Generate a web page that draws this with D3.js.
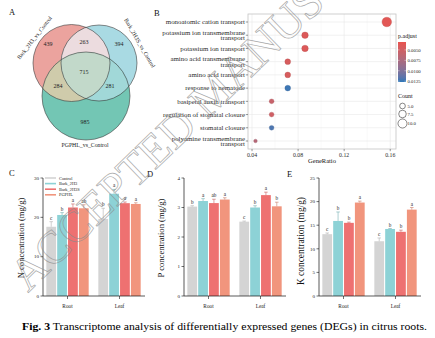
<!DOCTYPE html>
<html><head><meta charset="utf-8">
<script src="https://cdn.jsdelivr.net/npm/d3@7"></script>
<style>body{margin:0;background:#fff} svg{display:block} text{font-family:"Liberation Serif","Times New Roman",serif}</style>
</head><body>
<svg id="c" width="435" height="338"></svg>
<script>
// ---------- data ----------
const vennSets = ["Bark_2H3_vs_Control", "Bark_2H3S_vs_Control", "PGPHL_vs_Control"];
// region counts: A only, B only, C only, A&B, A&C, B&C, A&B&C
const vennCounts = [439, 394, 985, 263, 284, 281, 715];

const goTerms = ["monoatomic cation transport", "potassium ion transmembrane transport", "potassium ion transport",
  "amino acid transmembrane transport", "amino acid transport", "response to nematode", "basipetal auxin transport",
  "regulation of stomatal closure", "stomatal closure", "polyamine transmembrane transport"];
const goLabels = [["monoatomic cation transport"], ["potassium ion transmembrane", "transport"], ["potassium ion transport"],
  ["amino acid transmembrane", "transport"], ["amino acid transport"], ["response to nematode"], ["basipetal auxin transport"],
  ["regulation of stomatal closure"], ["stomatal closure"], ["polyamine transmembrane", "transport"]];
const geneRatio = [0.157, 0.086, 0.086, 0.071, 0.071, 0.071, 0.057, 0.057, 0.057, 0.043];
const goCount = [11, 6, 6, 5, 5, 5, 4, 4, 4, 3];
const pAdjust = [0.0036, 0.0040, 0.0040, 0.0044, 0.0044, 0.0124, 0.0056, 0.0050, 0.0120, 0.0068];
const xTicksB = [0.04, 0.08, 0.12, 0.16];
const pTicks = [0.0050, 0.0075, 0.0100, 0.0125];
const countTicks = [5.0, 7.5, 10.0];

const tissues = ["Root", "Leaf"];
const treatments = ["Control", "Bark_2H3", "Bark_2H3S", "PGPHL"];
const nMean = [[17.6, 20.6, 22.5, 22.3], [19.6, 26.0, 23.6, 23.4]];
const nErr = [[1.3, 0.6, 0.9, 0.9], [2.7, 1.1, 0.3, 0.3]];
const nSig = [["c", "b", "a", "ab"], ["b", "a", "a", "a"]];
const pMean = [[3.03, 3.22, 3.15, 3.27], [2.52, 3.00, 3.42, 3.04]];
const pErr = [[0.03, 0.08, 0.13, 0.06], [0.02, 0.06, 0.10, 0.14]];
const pSig = [["b", "a", "ab", "a"], ["c", "b", "a", "b"]];
const kMean = [[13.1, 15.9, 15.5, 19.8], [11.6, 14.2, 13.6, 18.3]];
const kErr = [[0.25, 1.9, 0.15, 0.3], [0.7, 0.1, 0.35, 0.45]];
const kSig = [["c", "b", "b", "a"], ["c", "b", "b", "a"]];
const nTicks = [0, 10, 20, 30], pTicksY = [0, 1, 2, 3, 4], kTicks = [0, 5, 10, 15, 20, 25];

const caption = "Transcriptome analysis of differentially expressed genes (DEGs) in citrus roots.";

// ---------- drawing ----------
const svg = d3.select("#c");
const defs = svg.append("defs");

function letter(t, x, y) {
  svg.append("text").attr("x", x).attr("y", y).attr("font-size", 8.5).attr("fill", "#111").text(t);
}
letter("A", 9, 15); letter("B", 154, 16); letter("C", 9, 176); letter("D", 147, 177); letter("E", 287, 177);

// ---- Panel A: Venn ----
const vc = [{cx: 71.5, cy: 63, r: 38.5}, {cx: 99, cy: 63, r: 38}, {cx: 86, cy: 96, r: 44}];
["clipR", "clipB", "clipG"].forEach((id, i) => {
  defs.append("clipPath").attr("id", id).append("circle").attr("cx", vc[i].cx).attr("cy", vc[i].cy).attr("r", vc[i].r);
});
const gv = svg.append("g");
const circ = (g, c, fill) => g.append("circle").attr("cx", c.cx).attr("cy", c.cy).attr("r", c.r).attr("fill", fill);
circ(gv, vc[0], "#eba39e");
circ(gv, vc[1], "#a9dae3");
circ(gv, vc[2], "#73c6b4");
circ(gv, vc[1], "#ecdcdf").attr("clip-path", "url(#clipR)");
circ(gv, vc[2], "#cfcbab").attr("clip-path", "url(#clipR)");
circ(gv, vc[2], "#a1d8d8").attr("clip-path", "url(#clipB)");
circ(gv.append("g").attr("clip-path", "url(#clipR)").append("g").attr("clip-path", "url(#clipB)"), vc[2], "#c2d9ca");
vc.forEach(c => gv.append("circle").attr("cx", c.cx).attr("cy", c.cy).attr("r", c.r)
  .attr("fill", "none").attr("stroke", "#3a3a3a").attr("stroke-width", 0.6));
const vennPos = [[48, 44], [119, 44], [85, 122], [84, 42], [58, 86], [110, 86], [84, 72]];
vennCounts.forEach((v, i) => gv.append("text").attr("x", vennPos[i][0]).attr("y", vennPos[i][1] + 2)
  .attr("text-anchor", "middle").attr("font-size", 6).attr("fill", "#222").text(v));
gv.append("text").attr("transform", "translate(36,39) rotate(-52)").attr("text-anchor", "middle")
  .attr("font-size", 5.8).attr("fill", "#222").text(vennSets[0]);
gv.append("text").attr("transform", "translate(138,44) rotate(60)").attr("text-anchor", "middle")
  .attr("font-size", 5.8).attr("fill", "#222").text(vennSets[1]);
gv.append("text").attr("x", 85).attr("y", 147).attr("text-anchor", "middle")
  .attr("font-size", 5.8).attr("fill", "#222").text(vennSets[2]);

// ---- Panel B: GO dot plot ----
const bL = 248, bR = 396, bT = 14, bB = 149;
const xB = d3.scaleLinear().domain([0.0365, 0.165]).range([bL, bR]);
const yB = d3.scalePoint().domain(goTerms).range([22, 141]);
const colB = d3.scaleLinear().domain([0.0031, 0.0127]).range(["#e8534f", "#2e77b8"]).interpolate(d3.interpolateLab);
const rB = c => Math.sqrt(d3.scaleLinear().domain([3, 11]).range([3.3, 23])(c));
const gb = svg.append("g");
xTicksB.slice(0, -1).forEach((t, i) => gb.append("line").attr("x1", xB((t + xTicksB[i + 1]) / 2)).attr("x2", xB((t + xTicksB[i + 1]) / 2))
  .attr("y1", bT).attr("y2", bB).attr("stroke", "#f3f3f3").attr("stroke-width", 0.5));
xTicksB.forEach(t => gb.append("line").attr("x1", xB(t)).attr("x2", xB(t)).attr("y1", bT).attr("y2", bB)
  .attr("stroke", "#e8e8e8").attr("stroke-width", 0.6));
goTerms.forEach(t => gb.append("line").attr("x1", bL).attr("x2", bR).attr("y1", yB(t)).attr("y2", yB(t))
  .attr("stroke", "#e8e8e8").attr("stroke-width", 0.6));
gb.append("rect").attr("x", bL).attr("y", bT).attr("width", bR - bL).attr("height", bB - bT)
  .attr("fill", "none").attr("stroke", "#c4c4c4").attr("stroke-width", 0.8);
goTerms.forEach((t, i) => {
  gb.append("circle").attr("cx", xB(geneRatio[i])).attr("cy", yB(t)).attr("r", rB(goCount[i]))
    .attr("fill", colB(pAdjust[i])).attr("stroke", d3.color(colB(pAdjust[i])).darker(0.6)).attr("stroke-width", 0.3);
  gb.append("line").attr("x1", bL - 2.2).attr("x2", bL).attr("y1", yB(t)).attr("y2", yB(t)).attr("stroke", "#333").attr("stroke-width", 0.5);
  const lines = goLabels[i];
  const tx = gb.append("text").attr("text-anchor", "end").attr("font-size", 6.9).attr("fill", "#2a2a2a");
  lines.forEach((l, j) => tx.append("tspan").attr("x", bL - 3)
    .attr("y", yB(t) + 2.3 + (j - (lines.length - 1) / 2) * 5.6).text(l));
});
xTicksB.forEach(t => {
  gb.append("line").attr("x1", xB(t)).attr("x2", xB(t)).attr("y1", bB).attr("y2", bB + 2.2).attr("stroke", "#333").attr("stroke-width", 0.5);
  gb.append("text").attr("x", xB(t)).attr("y", bB + 7.5).attr("text-anchor", "middle").attr("font-size", 5.8).attr("fill", "#2a2a2a").text(t.toFixed(2));
});
gb.append("text").attr("x", (bL + bR) / 2).attr("y", 163).attr("text-anchor", "middle").attr("font-size", 6.5).attr("fill", "#111").text("GeneRatio");
const grad = defs.append("linearGradient").attr("id", "pg").attr("x1", 0).attr("x2", 0).attr("y1", 0).attr("y2", 1);
d3.range(0, 1.001, 0.1).forEach(f => grad.append("stop").attr("offset", f).attr("stop-color", colB(0.0031 + f * (0.0127 - 0.0031))));
const yP = d3.scaleLinear().domain([0.0031, 0.0127]).range([42, 82]);
gb.append("text").attr("x", 398).attr("y", 38).attr("font-size", 6).attr("fill", "#111").text("p.adjust");
gb.append("rect").attr("x", 398).attr("y", 42).attr("width", 8).attr("height", 40).attr("fill", "url(#pg)");
pTicks.forEach(t => {
  gb.append("line").attr("x1", 398).attr("x2", 399.6).attr("y1", yP(t)).attr("y2", yP(t)).attr("stroke", "#fff").attr("stroke-width", 0.4);
  gb.append("line").attr("x1", 404.4).attr("x2", 406).attr("y1", yP(t)).attr("y2", yP(t)).attr("stroke", "#fff").attr("stroke-width", 0.4);
  gb.append("text").attr("x", 407.5).attr("y", yP(t) + 1.8).attr("font-size", 4.8).attr("fill", "#222").text(t.toFixed(4));
});
gb.append("text").attr("x", 398).attr("y", 98).attr("font-size", 6).attr("fill", "#111").text("Count");
const cy0 = [106, 114, 123.5];
countTicks.forEach((c, i) => {
  gb.append("circle").attr("cx", 402.5).attr("cy", cy0[i]).attr("r", rB(c)).attr("fill", "none").attr("stroke", "#111").attr("stroke-width", 0.5);
  gb.append("text").attr("x", 407.5).attr("y", cy0[i] + 1.8).attr("font-size", 4.8).attr("fill", "#222").text(c.toFixed(1));
});

// ---- Bar panels ----
const barColors = d3.scaleOrdinal().domain(treatments).range(["#d4d4d4", "#8dd2d6", "#ee7171", "#f1957d"]);
function barPanel(o) {
  const g = svg.append("g");
  const y = d3.scaleLinear().domain([0, o.yMax]).range([296, 178]);
  const x0 = d3.scaleBand().domain(tissues).range([o.ax + 3, o.ax + 98]).paddingInner(0.173);
  const x1 = d3.scaleBand().domain(treatments).range([0, x0.bandwidth()]).paddingInner(0.1).paddingOuter(0.03);
  tissues.forEach((ts, ti) => treatments.forEach((tr, k) => {
    const m = o.mean[ti][k], e = o.err[ti][k];
    const bx = x0(ts) + x1(tr), cx = bx + x1.bandwidth() / 2;
    const col = barColors(tr);
    g.append("rect").attr("x", bx).attr("y", y(m)).attr("width", x1.bandwidth()).attr("height", y(0) - y(m)).attr("fill", col);
    const ec = d3.color(col).darker(0.5);
    g.append("line").attr("x1", cx).attr("x2", cx).attr("y1", y(m)).attr("y2", y(m + e)).attr("stroke", ec).attr("stroke-width", 0.6);
    g.append("line").attr("x1", cx - 1.8).attr("x2", cx + 1.8).attr("y1", y(m + e)).attr("y2", y(m + e)).attr("stroke", ec).attr("stroke-width", 0.6);
    g.append("text").attr("x", cx).attr("y", y(m + e) - 2).attr("text-anchor", "middle").attr("font-size", 5.2).attr("fill", "#222").text(o.sig[ti][k]);
  }));
  g.append("line").attr("x1", o.ax).attr("x2", o.ax).attr("y1", y(0)).attr("y2", y(o.yMax)).attr("stroke", "#111").attr("stroke-width", 0.7);
  o.ticks.forEach(t => {
    g.append("line").attr("x1", o.ax - 2.5).attr("x2", o.ax).attr("y1", y(t)).attr("y2", y(t)).attr("stroke", "#111").attr("stroke-width", 0.6);
    g.append("text").attr("x", o.ax - 4).attr("y", y(t) + 1.7).attr("text-anchor", "end").attr("font-size", 5).attr("fill", "#222").text(t);
  });
  g.append("line").attr("x1", o.ax).attr("x2", o.ax + 102).attr("y1", y(0)).attr("y2", y(0)).attr("stroke", "#111").attr("stroke-width", 0.7);
  tissues.forEach(ts => {
    const cx = x0(ts) + x0.bandwidth() / 2;
    g.append("line").attr("x1", cx).attr("x2", cx).attr("y1", y(0)).attr("y2", y(0) + 3).attr("stroke", "#111").attr("stroke-width", 0.6);
    g.append("text").attr("x", cx).attr("y", 307.5).attr("text-anchor", "middle").attr("font-size", 5.3).attr("fill", "#222").text(ts);
  });
  g.append("text").attr("transform", `translate(${o.lx},${o.ly}) rotate(-90)`).attr("text-anchor", "middle")
    .attr("font-size", o.lfs).attr("fill", "#111").text(o.label);
  if (o.legend) {
    treatments.forEach((tr, k) => {
      const ly = 178 + k * 5.6;
      g.append("rect").attr("x", o.ax + 2).attr("y", ly - 0.8).attr("width", 11).attr("height", 1.6).attr("fill", barColors(tr));
      g.append("text").attr("x", o.ax + 16).attr("y", ly + 1.5).attr("font-size", 4.4).attr("fill", "#222").text(tr);
    });
  }
}
barPanel({ax: 43, yMax: 30, ticks: nTicks, mean: nMean, err: nErr, sig: nSig, label: "N concentration (mg/g)", lx: 24, ly: 238, lfs: 8.6, legend: true});
barPanel({ax: 184, yMax: 4, ticks: pTicksY, mean: pMean, err: pErr, sig: pSig, label: "P concentration (mg/g)", lx: 164, ly: 238, lfs: 8.6});
barPanel({ax: 319, yMax: 25, ticks: kTicks, mean: kMean, err: kErr, sig: kSig, label: "K concentration (mg/g)", lx: 304, ly: 241, lfs: 9.4});

// caption
const cap = svg.append("text").attr("x", 22).attr("y", 330).attr("font-size", 11.2).attr("fill", "#000")
  .attr("textLength", 405).attr("lengthAdjust", "spacingAndGlyphs");
cap.append("tspan").attr("font-weight", "bold").text("Fig. 3");
cap.append("tspan").text(" " + caption);

// watermark
svg.append("text").attr("transform", "translate(28,293) rotate(-44)").attr("font-size", 46)
  .attr("fill", "none").attr("stroke", "#8c8c8c").attr("stroke-width", 0.7).attr("opacity", 0.75)
  .text("ACCEPTED MANUSCRIPT");
</script>
</body></html>
